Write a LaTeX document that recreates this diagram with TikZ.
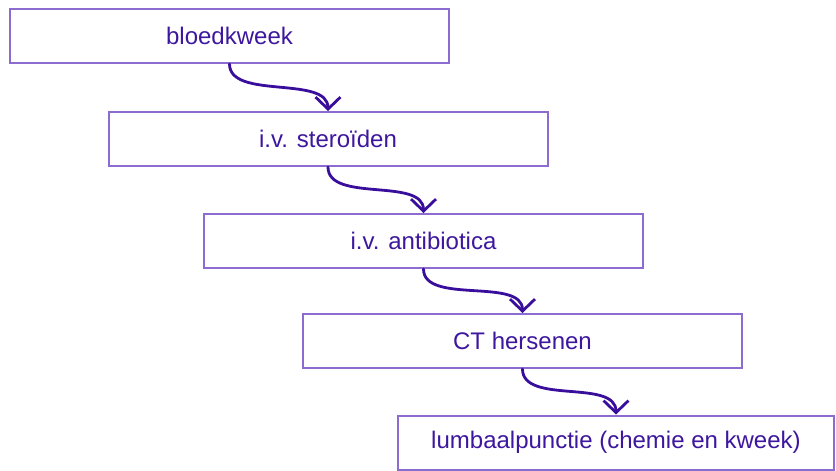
\documentclass[tikz,border=0pt]{standalone}
\usepackage{fontspec}
\setmainfont{Liberation Sans}
\usetikzlibrary{arrows.meta}
\definecolor{boxline}{HTML}{8C6CD0}
\definecolor{txt}{HTML}{3D179E}
\definecolor{arrc}{HTML}{3A0E9C}
\begin{document}
\begin{tikzpicture}[x=1pt,y=-1pt,
  stepbox/.style={draw=boxline, line width=2pt, fill=white, rectangle,
    minimum width=439pt, minimum height=54pt, inner sep=0pt,
    font=\fontsize{24}{28}\selectfont, text=txt},
  flow/.style={draw=arrc, line width=2.8pt, line cap=round,
    -{Straight Barb[length=12pt,width=25pt,line width=2.8pt]}}]
\useasboundingbox (0,0) rectangle (836,471);
\node[stepbox] (b1) at (229.5,36) {bloedkweek};
\node[stepbox] (b2) at (328,139) {i.v. steroïden};
\node[stepbox] (b3) at (423.5,241) {i.v. antibiotica};
\node[stepbox] (b4) at (522.5,341) {CT hersenen};
\node[stepbox, minimum width=436pt] (b5) at (616,442.5) {lumbaalpunctie (chemie en kweek)};
\draw[flow] (b1.south) .. controls +(0,36) and +(0,-36) .. (b2.north);
\draw[flow] (b2.south) .. controls +(0,36) and +(0,-36) .. (b3.north);
\draw[flow] (b3.south) .. controls +(0,36) and +(0,-36) .. (b4.north);
\draw[flow] (b4.south) .. controls +(0,36) and +(0,-36) .. (b5.north);
\end{tikzpicture}
\end{document}
